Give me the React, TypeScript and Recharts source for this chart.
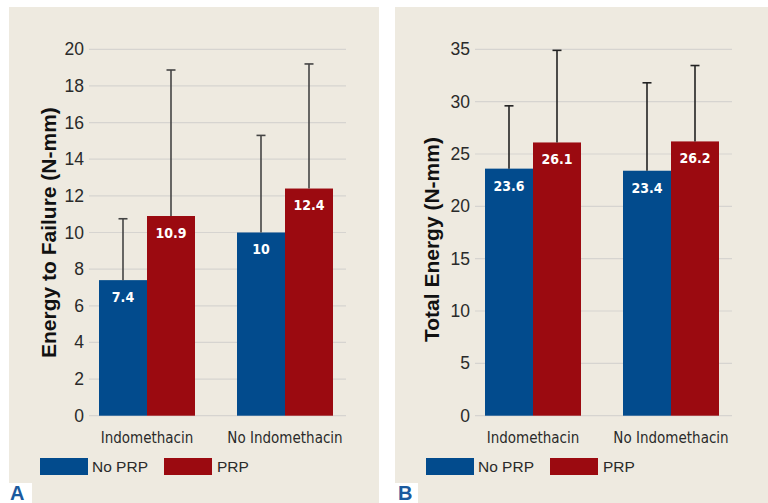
import React from 'react';
import { BarChart, Bar, XAxis, YAxis, CartesianGrid, LabelList } from 'recharts';

const categories = ['Indomethacin', 'No Indomethacin'];
const seriesNames = ['No PRP', 'PRP'];
const seriesColors = ['#024b8d', '#9b0a10'];

const failureNoPRP = [7.4, 10];
const failurePRP = [10.9, 12.4];
const failureNoPRPUpper = [10.75, 15.3];
const failurePRPUpper = [18.87, 19.2];
const failureTicks = [0, 2, 4, 6, 8, 10, 12, 14, 16, 18, 20];

const totalNoPRP = [23.6, 23.4];
const totalPRP = [26.1, 26.2];
const totalNoPRPUpper = [29.6, 31.8];
const totalPRPUpper = [34.9, 33.45];
const totalTicks = [0, 5, 10, 15, 20, 25, 30, 35];

const BG = '#eeeae0';
const SANS = "'Liberation Sans', Arial, Helvetica, sans-serif";
const COND = "'DejaVu Sans Condensed', 'Liberation Sans Narrow', sans-serif";

function buildRows(a: number[], b: number[], aUp: number[], bUp: number[]) {
  return categories.map((name, i) => ({
    name,
    noPRP: a[i],
    prp: b[i],
    noPRPUpper: aUp[i],
    prpUpper: bUp[i],
  }));
}

const failureRows = buildRows(failureNoPRP, failurePRP, failureNoPRPUpper, failurePRPUpper);
const totalRows = buildRows(totalNoPRP, totalPRP, totalNoPRPUpper, totalPRPUpper);

const GridLine = (props: any) => {
  const { x1, x2, y1, y2, index } = props;
  return (
    <line
      key={`g-${index}-${y1}`}
      x1={x1 + 11}
      x2={x2 - 8}
      y1={y1}
      y2={y2}
      stroke="#d6d4d0"
      strokeWidth={1.2}
    />
  );
};

const YTick = (props: any) => {
  const { y, payload } = props;
  return (
    <text x={75} y={y} textAnchor="end" dominantBaseline="central" fontFamily={SANS} fontSize={17.5} fill="#2a2a2a">
      {payload.value}
    </text>
  );
};

const XTick = (props: any) => {
  const { x, y, payload } = props;
  return (
    <text x={x} y={y + 19} textAnchor="middle" fontFamily={COND} fontStretch="condensed" fontSize={15} fill="#2a2a2a">
      {payload.value}
    </text>
  );
};

// Bar with an upward error whisker; the whisker's pixel length comes from the bar's own scaled geometry
function makeBarShape(valueKey: string, upperKey: string, errColor: string) {
  return (p: any) => {
    const { x, y, width, height, fill, payload } = p;
    const value = payload[valueKey];
    const upper = payload[upperKey];
    const base = y + height;
    const yUp = base - (upper / value) * height;
    const cx = x + width / 2;
    return (
      <g>
        <rect x={x} y={y} width={width} height={height} fill={fill} />
        <line x1={cx} x2={cx} y1={y} y2={yUp} stroke={errColor} strokeWidth={1.6} />
        <line x1={cx - 4.5} x2={cx + 4.5} y1={yUp} y2={yUp} stroke={errColor} strokeWidth={1.6} />
      </g>
    );
  };
}

function LegendRow() {
  return (
    <div style={{ position: 'absolute', left: 0, top: 451, width: 370, height: 17 }}>
      {seriesNames.map((n, i) => (
        <React.Fragment key={n}>
          <div style={{ position: 'absolute', left: 31 + i * 124, top: 0, width: 48, height: 17, background: seriesColors[i] }} />
          <div
            style={{
              position: 'absolute',
              left: 83 + i * 125,
              top: -1,
              height: 17,
              lineHeight: '19px',
              fontFamily: SANS,
              fontSize: 15.5,
              color: '#2a2a2a',
              whiteSpace: 'nowrap',
            }}
          >
            {n}
          </div>
        </React.Fragment>
      ))}
    </div>
  );
}

function Panel(props: {
  left: number;
  width: number;
  rows: any[];
  ticks: number[];
  max: number;
  label: string;
  labelX: number;
  labelY: number;
  letter: string;
  boxLeft: number;
  boxW: number;
  letterLeft: number;
  errColor: string;
}) {
  const { left, width, rows, ticks, max, label, labelX, labelY, letter, boxLeft, boxW, letterLeft, errColor } = props;
  const labelStyle = { fill: '#fff', fontWeight: 'bold' as const, fontSize: 14, fontFamily: COND };
  return (
    <>
      <div style={{ position: 'absolute', left, top: 7, width, height: 496, background: BG }}>
        <BarChart
          width={width}
          height={440}
          data={rows}
          margin={{ top: 42.3, right: width - 345, bottom: 1.3, left: 0 }}
          barGap={0}
          barSize={48}
        >
          <CartesianGrid vertical={false} horizontal={GridLine as any} />
          <XAxis dataKey="name" axisLine={false} tickLine={false} height={30} tick={XTick} interval={0} />
          <YAxis
            width={69}
            domain={[0, max]}
            ticks={ticks}
            axisLine={false}
            tickLine={false}
            tick={YTick}
            interval={0}
            label={{
              value: label,
              content: () => (
                <text
                  x={labelX}
                  y={labelY}
                  transform={`rotate(-90 ${labelX} ${labelY})`}
                  textAnchor="start"
                  fontFamily={SANS}
                  fontWeight="bold"
                  fontSize={21}
                  fill="#111"
                >
                  {label}
                </text>
              ),
            }}
          />
          <Bar
            dataKey="noPRP"
            name={seriesNames[0]}
            fill={seriesColors[0]}
            isAnimationActive={false}
            shape={makeBarShape('noPRP', 'noPRPUpper', errColor)}
          >
            <LabelList dataKey="noPRP" position="insideTop" offset={12} {...labelStyle} />
          </Bar>
          <Bar
            dataKey="prp"
            name={seriesNames[1]}
            fill={seriesColors[1]}
            isAnimationActive={false}
            shape={makeBarShape('prp', 'prpUpper', errColor)}
          >
            <LabelList dataKey="prp" position="insideTop" offset={12} {...labelStyle} />
          </Bar>
        </BarChart>
        <LegendRow />
      </div>
      <div
        style={{
          position: 'absolute',
          left: boxLeft,
          top: 483,
          width: boxW,
          height: 20,
          background: '#fff',
          overflow: 'hidden',
        }}
      >
        <div
          style={{
            position: 'absolute',
            left: letterLeft,
            top: 0,
            fontFamily: SANS,
            fontWeight: 'bold',
            fontSize: 20,
            lineHeight: '20px',
            color: '#1b5a9e',
          }}
        >
          {letter}
        </div>
      </div>
    </>
  );
}

export default function App() {
  return (
    <div style={{ position: 'absolute', left: 0, top: 0, width: 768, height: 503, background: '#fff', overflow: 'hidden' }}>
      <Panel
        left={9}
        width={370}
        rows={failureRows}
        ticks={failureTicks}
        max={20}
        label="Energy to Failure (N-mm)"
        labelX={47}
        labelY={351}
        letter="A"
        boxLeft={0}
        boxW={32}
        letterLeft={10}
        errColor="#444"
      />
      <Panel
        left={395}
        width={373}
        rows={totalRows}
        ticks={totalTicks}
        max={35}
        label="Total Energy (N-mm)"
        labelX={44}
        labelY={335}
        letter="B"
        boxLeft={395}
        boxW={23}
        letterLeft={3}
        errColor="#222"
      />
    </div>
  );
}
